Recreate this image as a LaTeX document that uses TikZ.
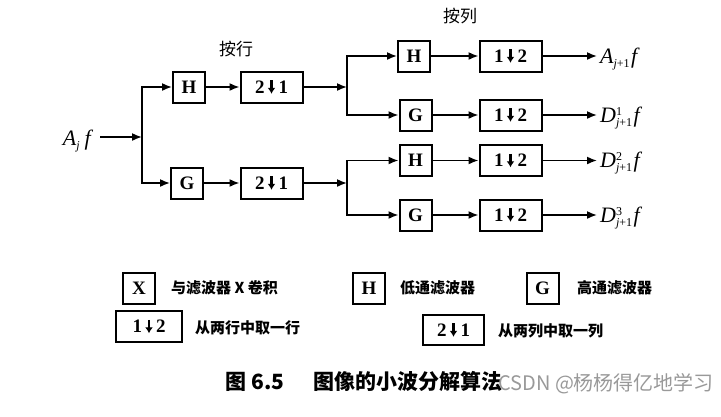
\documentclass[tikz,border=0pt]{standalone}
\usepackage{fontspec}
\newfontfamily\cjk{Noto Sans CJK SC}
\newfontfamily\tms{Liberation Serif}
\usetikzlibrary{arrows.meta}
\newcommand{\dnar}{\hspace{3pt}\tikz[baseline=0pt,x=1pt,y=1pt]\draw[line width=2.2pt,-{Latex[length=6pt,width=8pt]}] (0,13) -- (0,-0.5);\hspace{3pt}}
\newcommand{\sig}[4][1.5pt]{{\tms\itshape #2}\rlap{\raisebox{7pt}{\tms\fontsize{12}{12}\selectfont #3}}\raisebox{-4pt}{\tms\fontsize{12}{12}\selectfont #4}\kern#1{\tms\itshape f}}
\tikzset{
  blk/.style={draw, line width=2pt, minimum width=32pt, minimum height=31pt, inner sep=0pt,
    font=\tms\bfseries\fontsize{19}{20}\selectfont},
  wblk/.style={blk, minimum width=62pt},
  arr/.style={line width=1.6pt, -{Latex[length=10pt,width=8pt]}},
  lbl/.style={font=\tms\fontsize{22}{24}\selectfont, inner sep=3pt},
  zh/.style={font=\cjk\fontsize{17}{20}\selectfont},
  key/.style={font=\cjk\bfseries\fontsize{15}{18}\selectfont, anchor=west, inner sep=3pt},
}

\begin{document}
\begin{tikzpicture}[x=1pt,y=-1pt]
	%%%%% START %%%%%
	\useasboundingbox (0,0) rectangle (721,416);
	
	% by rows
	\node[lbl, anchor=base east, inner sep=9pt] (Ajf) at (100,145) {\sig[5pt]{A}{}{\itshape j}};
	\coordinate (s1) at (142,137);
	\node[blk] (H1) at (189,87) {H};
	\node[blk] (G1) at (187,183) {G};
	\node[wblk] (R1) at (271.5,87) {2\dnar1};
	\node[wblk] (R2) at (271.5,183) {2\dnar1};
	\node[zh] (byrow) at (236,49) {按行};
	
	\draw[arr] (Ajf.east |- s1) -- (s1);
	\draw[arr] (s1) |- (H1);
	\draw[arr] (s1) |- (G1);
	\draw[arr] (H1) -- (R1);
	\draw[arr] (G1) -- (R2);
	
	% by columns
	\coordinate (s2) at (347,87);
	\coordinate (s3) at (347,183);
	\node[zh] (bycol) at (460,16) {按列};
	\node[blk] (Hc1) at (414,56) {H};
	\node[blk] (Gc1) at (415.5,115) {G};
	\node[blk] (Hc2) at (415.5,160.5) {H};
	\node[blk] (Gc2) at (415.5,215) {G};
	\node[wblk] (C1) at (510.5,56) {1\dnar2};
	\node[wblk] (C2) at (510.5,115) {1\dnar2};
	\node[wblk] (C3) at (510.5,160.5) {1\dnar2};
	\node[wblk] (C4) at (510.5,215) {1\dnar2};
	
	\draw[arr] (R1) -- (s2);
	\draw[arr] (R2) -- (s3);
	\draw[arr] (s2) |- (Hc1);
	\draw[arr] (s2) |- (Gc1);
	\draw[arr] (s3) |- (Hc2);
	\draw[arr] (s3) |- (Gc2);
	\draw[arr] (Hc1) -- (C1);
	\draw[arr] (Gc1) -- (C2);
	\draw[arr] (Hc2) -- (C3);
	\draw[arr] (Gc2) -- (C4);
	
	\node[lbl, anchor=base west] (A1) at (597,63) {\sig{A}{}{{\itshape j}+1}};
	\node[lbl, anchor=base west] (D1) at (597,122) {\sig{D}{1}{{\itshape j}+1}};
	\node[lbl, anchor=base west] (D2) at (597,167.5) {\sig{D}{2}{{\itshape j}+1}};
	\node[lbl, anchor=base west] (D3) at (597,222) {\sig{D}{3}{{\itshape j}+1}};
	\draw[arr] (C1) -- (C1 -| A1.west);
	\draw[arr] (C2) -- (C2 -| D1.west);
	\draw[arr] (C3) -- (C3 -| D2.west);
	\draw[arr] (C4) -- (C4 -| D3.west);
	
	% legend
	\node[blk] (kX) at (139,288.5) {X};
	\node[key] (tX) at (168,288) {与滤波器 X 卷积};
	\node[blk] (kH) at (369,288) {H};
	\node[key] (tH) at (397,288) {低通滤波器};
	\node[blk] (kG) at (542.5,288) {G};
	\node[key] (tG) at (574,288) {高通滤波器};
	\node[blk, minimum width=66pt] (kR) at (149,326.5) {1\dnar2};
	\node[key] (tR) at (192,328) {从两行中取一行};
	\node[wblk, minimum width=61pt, minimum height=30pt] (kC) at (453.5,330) {2\dnar1};
	\node[key] (tC) at (495,331) {从两列中取一列};
	
	% caption
	\node[font=\cjk\bfseries\fontsize{21}{24}\selectfont] (cap) at (364,381) {图 6.5\hspace{1.4em}图像的小波分解算法};
	\node[font=\cjk\fontsize{20}{24}\selectfont, text=black!40, anchor=west, inner sep=0pt] (wm) at (498,384) {CSDN @杨杨得亿地学习};
	
	%%%%% END %%%%%
\end{tikzpicture}
\end{document}
